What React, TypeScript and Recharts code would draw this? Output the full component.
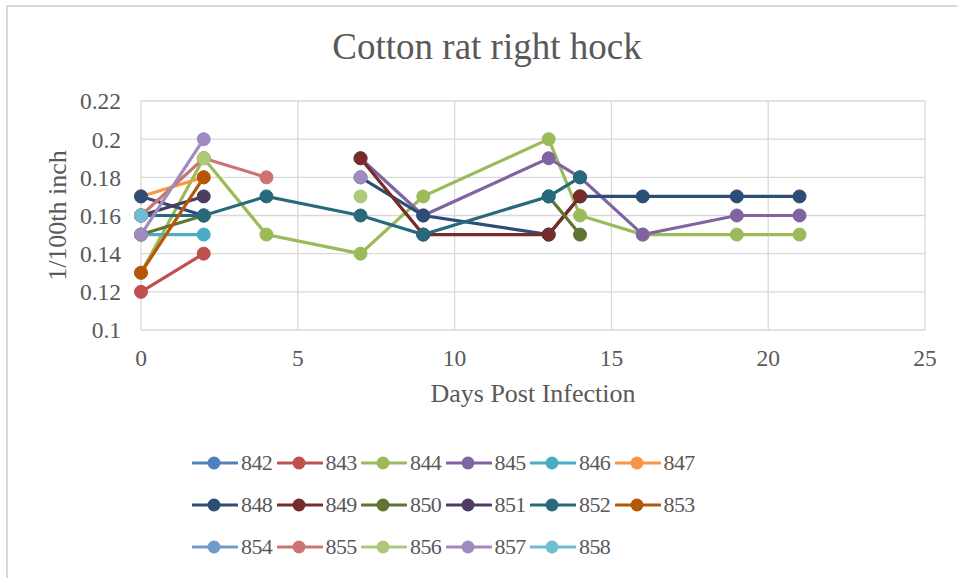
import React from 'react';
import { LineChart, Line, XAxis, YAxis, CartesianGrid } from 'recharts';

const days = [0, 2, 4, 7, 9, 13, 14, 16, 19, 21];

const seriesNames = ['842', '843', '844', '845', '846', '847', '848', '849', '850', '851', '852', '853', '854', '855', '856', '857', '858'];

const seriesColors = ['#4F81BD', '#C0504D', '#9BBB59', '#8064A2', '#4BACC6', '#F79646', '#2C4D75', '#772C2A', '#5F7530', '#4D3B62', '#276A7C', '#B65708', '#729ACA', '#CD7371', '#AFC97A', '#9F8BC0', '#6FBDD1'];

const v842: (number | null)[] = [0.16];
const v843: (number | null)[] = [0.12, 0.14];
const v844: (number | null)[] = [0.13, 0.19, 0.15, 0.14, 0.17, 0.2, 0.16, 0.15, 0.15, 0.15];
const v845: (number | null)[] = [null, null, null, 0.19, 0.16, 0.19, 0.18, 0.15, 0.16, 0.16];
const v846: (number | null)[] = [0.15, 0.15];
const v847: (number | null)[] = [0.17, 0.18];
const v848: (number | null)[] = [0.17, 0.16, null, 0.18, 0.16, 0.15, 0.17, 0.17, 0.17, 0.17];
const v849: (number | null)[] = [null, null, null, 0.19, 0.15, 0.15, 0.17];
const v850: (number | null)[] = [0.15, 0.16, null, null, null, 0.17, 0.15];
const v851: (number | null)[] = [0.16, 0.17];
const v852: (number | null)[] = [0.16, 0.16, 0.17, 0.16, 0.15, 0.17, 0.18];
const v853: (number | null)[] = [0.13, 0.18];
const v854: (number | null)[] = [0.16];
const v855: (number | null)[] = [0.16, 0.19, 0.18];
const v856: (number | null)[] = [null, 0.19, null, 0.17];
const v857: (number | null)[] = [0.15, 0.2, null, 0.18];
const v858: (number | null)[] = [0.16];

const seriesValues = [v842, v843, v844, v845, v846, v847, v848, v849, v850, v851, v852, v853, v854, v855, v856, v857, v858];

const xTicks = [0, 5, 10, 15, 20, 25];
const yTicks = [0.1, 0.12, 0.14, 0.16, 0.18, 0.2, 0.22];

const data = days.map((d, i) => {
  const row: Record<string, number | null> = { day: d };
  seriesNames.forEach((n, s) => {
    const v = seriesValues[s][i];
    row[n] = v === undefined ? null : v;
  });
  return row;
});

const FONT = "'Liberation Serif', 'Times New Roman', serif";
const TEXT = '#595959';

const legendRows = [seriesNames.slice(0, 6), seriesNames.slice(6, 12), seriesNames.slice(12)];

export default function App() {
  return (
    <div style={{ position: 'absolute', left: 0, top: 0, width: 957, height: 578, background: '#fff', fontFamily: FONT, overflow: 'hidden' }}>
      <div style={{ position: 'absolute', left: 6, top: 5, width: 1000, height: 600, borderLeft: '2px solid #D9D9D9', borderTop: '2px solid #D9D9D9' }} />
      <div style={{ position: 'absolute', left: 0, width: 974, top: 27, textAlign: 'center', fontSize: 37, color: TEXT, lineHeight: '40px' }}>
        Cotton rat right hock
      </div>
      <div style={{ position: 'absolute', left: 0, top: 0 }}>
        <LineChart width={957} height={578} data={data} margin={{ top: 101, right: 32, bottom: 218, left: 0 }}>
          <CartesianGrid stroke="#D9D9D9" strokeWidth={1.3} />
          <XAxis
            dataKey="day"
            type="number"
            domain={[0, 25]}
            ticks={xTicks}
            tickLine={false}
            axisLine={false}
            tickMargin={13}
            height={30}
            tick={{ fill: TEXT, fontSize: 23.5, fontFamily: FONT }}
            label={{
              content: (props: any) => {
                const vb = props.viewBox;
                return (
                  <text x={vb.x + vb.width / 2} y={vb.y + 72} textAnchor="middle" fill={TEXT} fontSize={26} fontFamily={FONT}>
                    Days Post Infection
                  </text>
                );
              },
            }}
          />
          <YAxis
            type="number"
            domain={[0.1, 0.22]}
            ticks={yTicks}
            width={141}
            tickLine={false}
            axisLine={false}
            tickMargin={14}
            tickFormatter={(v: number) => String(Number(v.toFixed(2)))}
            tick={{ fill: TEXT, fontSize: 23.5, fontFamily: FONT }}
            label={{
              content: (props: any) => {
                const vb = props.viewBox;
                const cx = 66;
                const cy = vb.y + vb.height / 2;
                return (
                  <text x={cx} y={cy} transform={`rotate(-90, ${cx}, ${cy})`} textAnchor="middle" fill={TEXT} fontSize={26} fontFamily={FONT}>
                    1/100th inch
                  </text>
                );
              },
            }}
          />
          {seriesNames.map((n, i) => (
            <Line
              key={n}
              type="linear"
              dataKey={n}
              stroke={seriesColors[i]}
              strokeWidth={3.2}
              connectNulls={false}
              dot={{ r: 6.5, fill: seriesColors[i], stroke: seriesColors[i], strokeWidth: 1 }}
              activeDot={false}
              isAnimationActive={false}
            />
          ))}
        </LineChart>
      </div>
      {legendRows.map((row, r) => (
        <div key={r} style={{ position: 'absolute', left: 192, top: 463 + r * 42 - 12, height: 24, display: 'flex' }}>
          {row.map((n) => {
            const idx = seriesNames.indexOf(n);
            const c = seriesColors[idx];
            return (
              <div key={n} style={{ width: 84.5, display: 'flex', alignItems: 'center', height: 24 }}>
                <svg width={46} height={24} style={{ display: 'block' }}>
                  <line x1={1} y1={12} x2={45} y2={12} stroke={c} strokeWidth={3.2} strokeLinecap="round" />
                  <circle cx={22} cy={12} r={6.5} fill={c} />
                </svg>
                <span style={{ fontSize: 22, letterSpacing: -0.6, color: TEXT, marginLeft: 3, lineHeight: '24px' }}>{n}</span>
              </div>
            );
          })}
        </div>
      ))}
    </div>
  );
}
